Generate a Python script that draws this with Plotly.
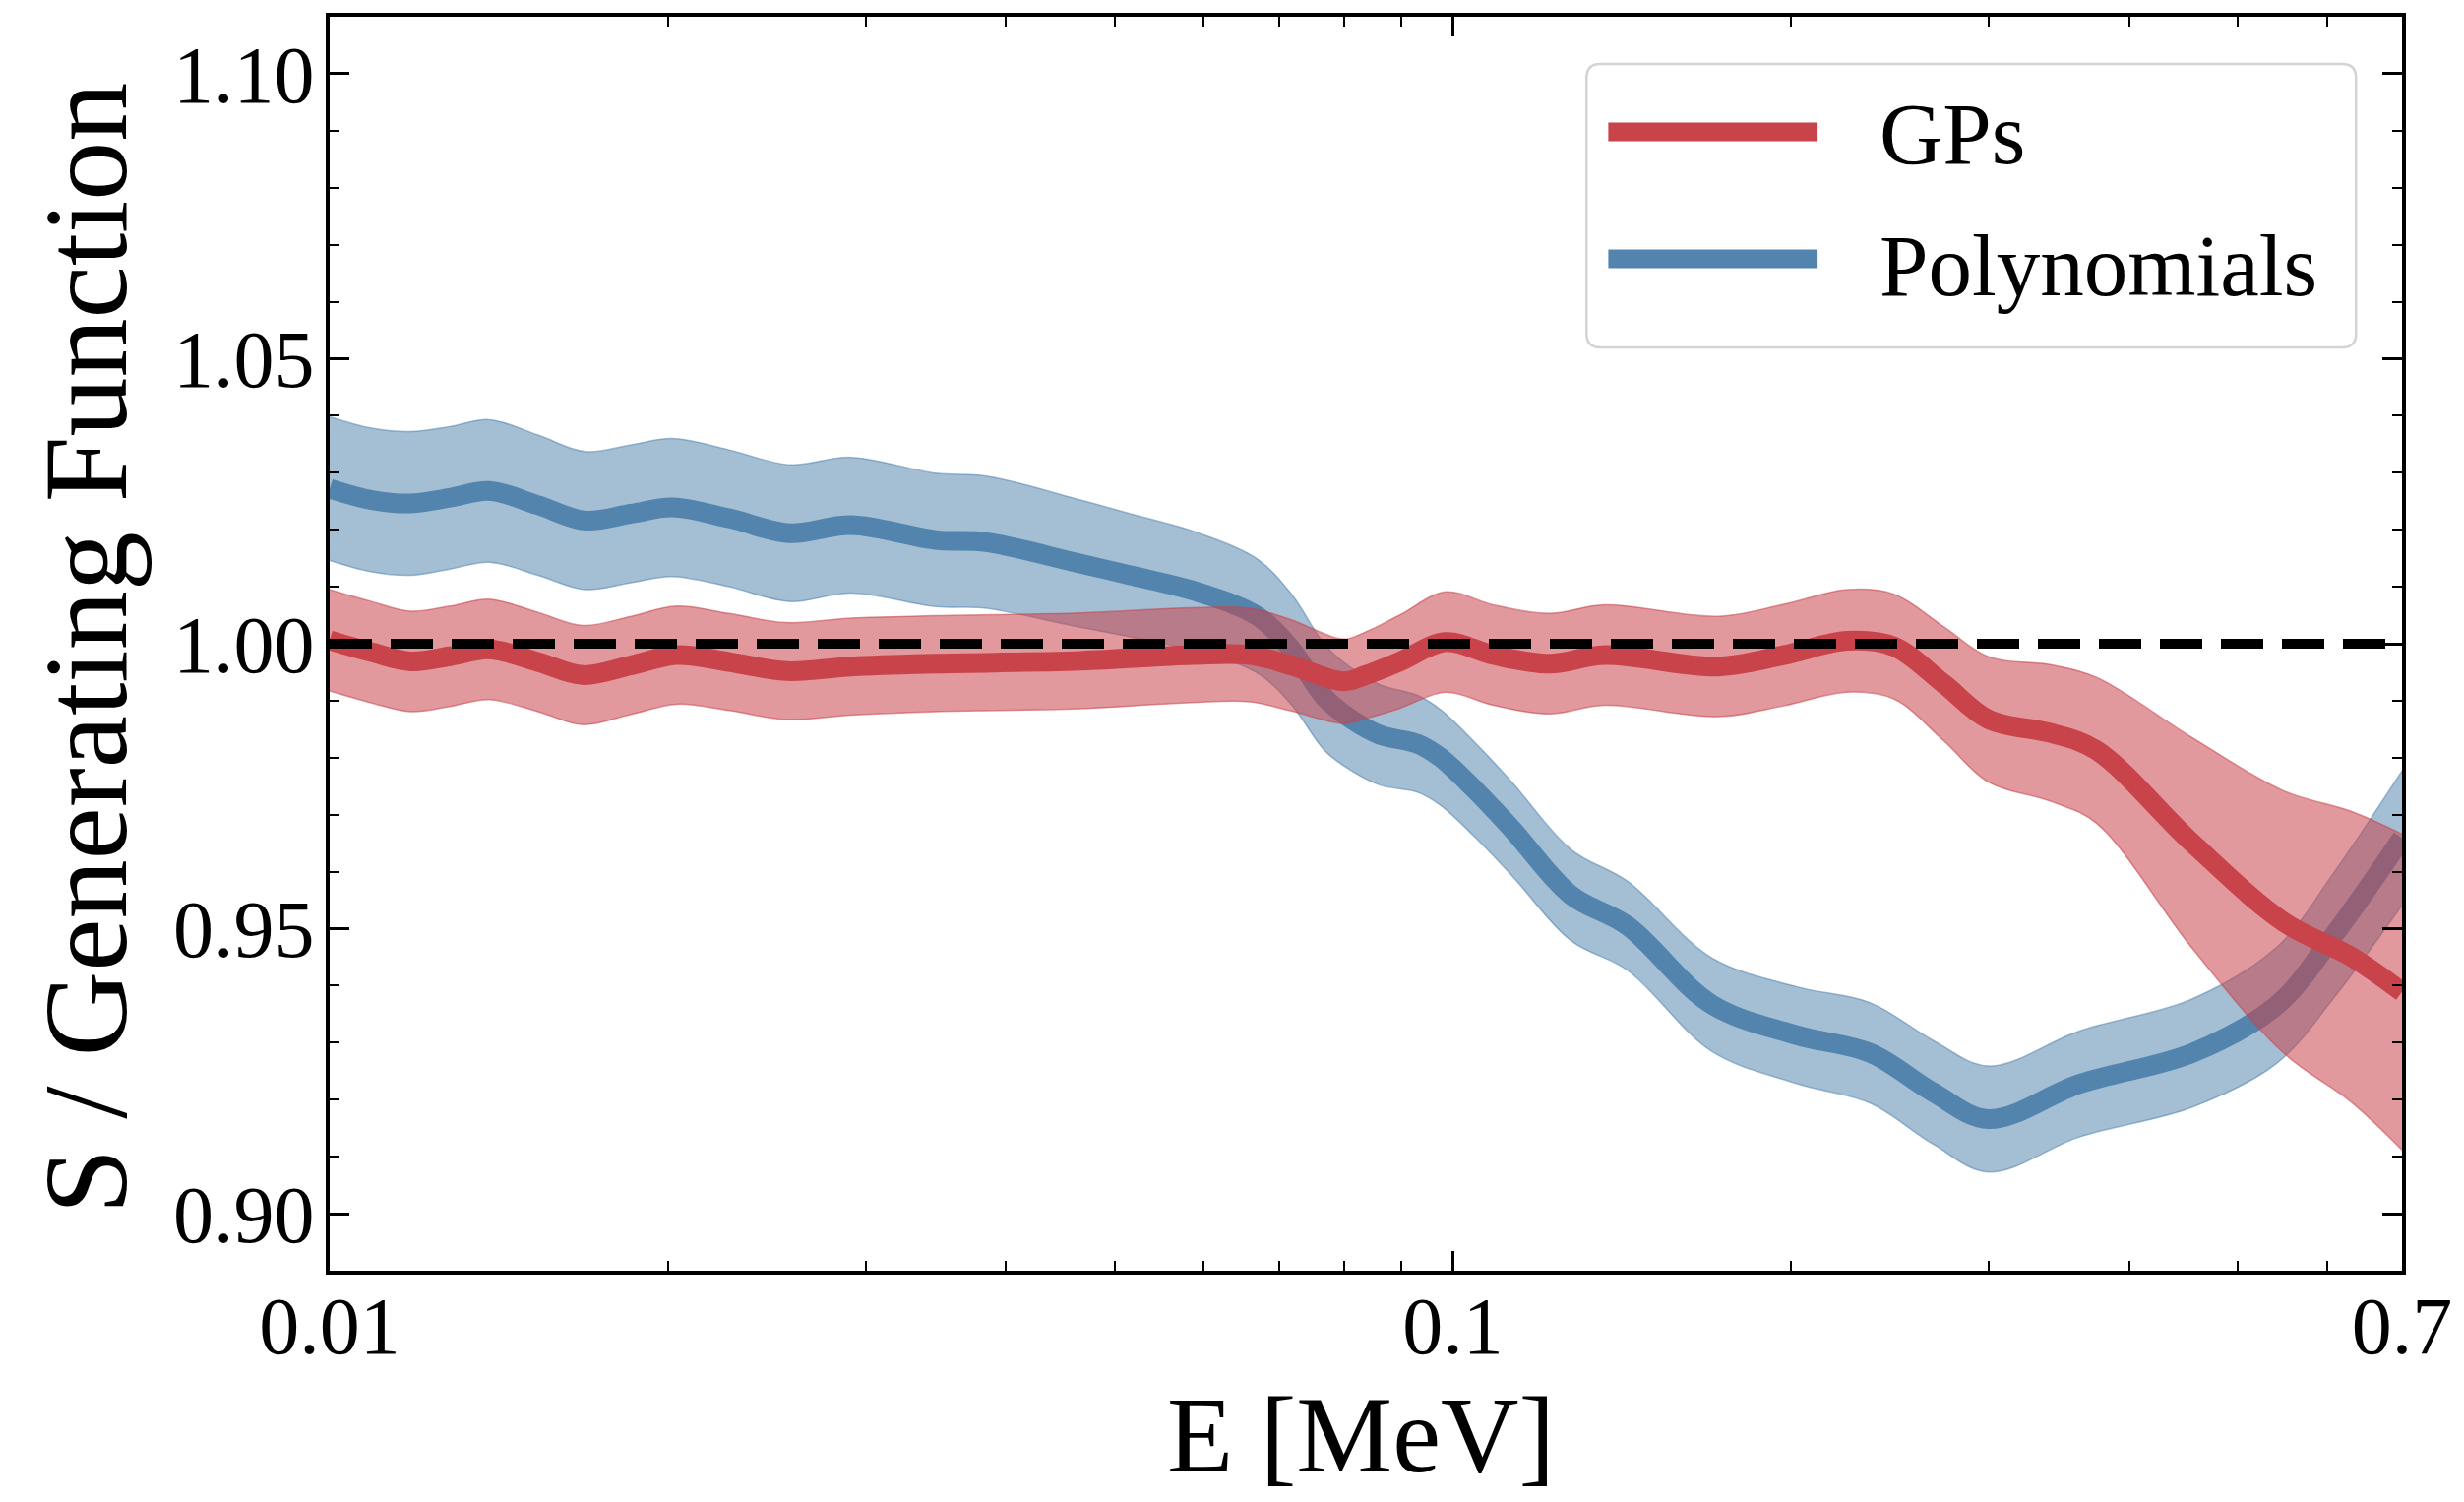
import math
import plotly.graph_objects as go

# ---- data -------------------------------------------------------------
# Energy grid [MeV] and S / generating-function ratio for the polynomial fit
poly_E = [0.0100, 0.0109, 0.01181, 0.0128, 0.01387, 0.01533, 0.01688, 0.01855,
          0.02018, 0.02268, 0.02568, 0.02914, 0.03463, 0.03844, 0.04624, 0.05162,
          0.05941, 0.06703, 0.07178, 0.07695, 0.08127, 0.08613, 0.09315, 0.09756,
          0.1046, 0.1129, 0.1274, 0.1431, 0.1700, 0.2025, 0.2353, 0.2677,
          0.3000, 0.3618, 0.4556, 0.5424, 0.6095, 0.7000]
poly_mid = [1.0272, 1.0252, 1.0246, 1.0256, 1.0268, 1.0243, 1.0216, 1.0228,
            1.0239, 1.0220, 1.0194, 1.0208, 1.0182, 1.0178, 1.0142, 1.0120,
            1.0090, 1.0048, 0.9991, 0.9905, 0.9867, 0.9840, 0.9824, 0.9800,
            0.9744, 0.9675, 0.9559, 0.9505, 0.9367, 0.9313, 0.9282, 0.9213,
            0.9166, 0.9228, 0.9282, 0.9367, 0.9490, 0.9659]
poly_half = [0.0126, 0.0126, 0.0126, 0.0125, 0.0125, 0.0123, 0.0121, 0.0121,
             0.0121, 0.0120, 0.0120, 0.0119, 0.0117, 0.0116, 0.0112, 0.0108,
             0.0104, 0.0100, 0.0097, 0.0093, 0.0090, 0.0088, 0.0085, 0.0084,
             0.0083, 0.0082, 0.0080, 0.0078, 0.0082, 0.0085, 0.0088, 0.0091,
             0.0093, 0.0093, 0.0095, 0.0102, 0.0110, 0.0118]

# Same ratio for the Gaussian-process fit
gp_E = [0.0100, 0.0109, 0.01181, 0.0128, 0.01387, 0.01533, 0.0168, 0.01855,
        0.02036, 0.02268, 0.02553, 0.02914, 0.03463, 0.0466, 0.0586, 0.0660,
        0.0718, 0.0799, 0.0837, 0.0898, 0.0985, 0.1087, 0.1219, 0.1365,
        0.1723, 0.1970, 0.2245, 0.2470, 0.2735, 0.3000, 0.3412, 0.3742,
        0.4556, 0.5490, 0.6306, 0.7000]
gp_mid = [1.0006, 0.9985, 0.9969, 0.9978, 0.9990, 0.9968, 0.9945, 0.9962,
          0.9980, 0.9968, 0.9952, 0.9960, 0.9965, 0.9970, 0.9980, 0.9980,
          0.9962, 0.9934, 0.9945, 0.9969, 1.0003, 0.9980, 0.9965, 0.9980,
          0.9960, 0.9980, 1.0005, 0.9995, 0.9930, 0.9867, 0.9843, 0.9813,
          0.9650, 0.9512, 0.9451, 0.9389]
gp_half = [0.0089, 0.0089, 0.0088, 0.0088, 0.0088, 0.0087, 0.0087, 0.0086,
           0.0086, 0.0085, 0.0085, 0.0085, 0.0084, 0.0084, 0.0083, 0.0082,
           0.0080, 0.0074, 0.0076, 0.0082, 0.0088, 0.0088, 0.0088, 0.0088,
           0.0088, 0.0089, 0.0090, 0.0092, 0.0100, 0.0110, 0.0120, 0.0128,
           0.0185, 0.0230, 0.0255, 0.0277]

reference_level = 1.0
x_ticks = [0.01, 0.1, 0.7]
x_tick_text = ["0.01", "0.1", "0.7"]
x_minor = [0.02, 0.03, 0.04, 0.05, 0.06, 0.07, 0.08, 0.09, 0.2, 0.3, 0.4, 0.5, 0.6]
series_names = ["GPs", "Polynomials"]

# ---- styling ----------------------------------------------------------
FONT = "Liberation Serif"
RED = "#c8434a"
RED_FILL = "rgba(200,67,74,0.54)"
BLUE = "#5384ad"
BLUE_FILL = "rgba(83,132,173,0.53)"

fig = go.Figure()


def add_band(E, mid, half, line_color, fill_color, name):
    lower = [m - h for m, h in zip(mid, half)]
    upper = [m + h for m, h in zip(mid, half)]
    fig.add_trace(go.Scatter(x=E, y=lower, mode="lines", line=dict(width=1.5, color=fill_color, shape="spline"),
                             showlegend=False, hoverinfo="skip"))
    fig.add_trace(go.Scatter(x=E, y=upper, mode="lines", fill="tonexty", fillcolor=fill_color,
                             line=dict(width=1.5, color=fill_color, shape="spline"),
                             showlegend=False, hoverinfo="skip"))
    fig.add_trace(go.Scatter(x=E, y=mid, mode="lines", name=name,
                             line=dict(width=20, color=line_color, shape="spline"),
                             showlegend=False))


# polynomial fit underneath, GP fit on top
add_band(poly_E, poly_mid, poly_half, BLUE, BLUE_FILL, series_names[1])
add_band(gp_E, gp_mid, gp_half, RED, RED_FILL, series_names[0])

# unit ratio reference
fig.add_trace(go.Scatter(x=[x_ticks[0], x_ticks[-1]], y=[reference_level, reference_level], mode="lines",
                         line=dict(color="black", width=10, dash="43px,19px"),
                         showlegend=False, hoverinfo="skip"))

axis_common = dict(
    showline=True, linecolor="black", linewidth=4, mirror="allticks",
    ticks="inside", ticklen=20, tickwidth=2.5, tickcolor="black",
    showgrid=False, zeroline=False,
    tickfont=dict(family=FONT, size=82, color="black"),
)

fig.update_xaxes(type="log", range=[-2, math.log10(0.7)],
                 tickvals=x_ticks, ticktext=x_tick_text,
                 minor=dict(tickvals=x_minor, ticks="inside", ticklen=10, tickwidth=2, tickcolor="black"),
                 ticklabelstandoff=-18,
                 **axis_common)
fig.update_yaxes(range=[0.89, 1.11], tick0=0.9, dtick=0.05, tickformat=".2f",
                 minor=dict(dtick=0.01, ticks="inside", ticklen=10, tickwidth=2, tickcolor="black"),
                 ticklabelstandoff=-5,
                 **axis_common)

# ---- legend drawn in paper coordinates --------------------------------
PW, PH = 2114.0, 1274.0
bx0, bx1, by0, by1 = 0.6065, 0.9778, 0.7363, 0.9623
rx, ry = 14 / PW, 14 / PH
box_path = (f"M{bx0 + rx},{by1} L{bx1 - rx},{by1} Q{bx1},{by1} {bx1},{by1 - ry} "
            f"L{bx1},{by0 + ry} Q{bx1},{by0} {bx1 - rx},{by0} "
            f"L{bx0 + rx},{by0} Q{bx0},{by0} {bx0},{by0 + ry} "
            f"L{bx0},{by1 - ry} Q{bx0},{by1} {bx0 + rx},{by1} Z")
fig.add_shape(type="path", path=box_path, xref="paper", yref="paper",
              line=dict(color="#d3d3d3", width=2.5), fillcolor="rgba(255,255,255,0.8)", layer="above")

legend_rows = [(series_names[0], RED, 0.9082, 0.9066), (series_names[1], BLUE, 0.8069, 0.8014)]
for label, color, yl, yt in legend_rows:
    fig.add_shape(type="line", xref="paper", yref="paper", x0=0.6170, x1=0.7180, y0=yl, y1=yl,
                  line=dict(color=color, width=19), layer="above")
    fig.add_annotation(text=label, xref="paper", yref="paper", x=0.7470, y=yt,
                       xanchor="left", yanchor="middle", showarrow=False,
                       font=dict(family=FONT, size=89, color="black"))

# ---- axis titles ------------------------------------------------------
fig.add_annotation(text="E [MeV]", xref="paper", yref="paper", x=0.4974, y=-0.1311,
                   xanchor="center", yanchor="middle", showarrow=False,
                   font=dict(family=FONT, size=110, color="black"))
fig.add_annotation(text="S / Generating Function", xref="paper", yref="paper", x=-0.1175, y=0.4961,
                   xanchor="center", yanchor="middle", textangle=-90, showarrow=False,
                   font=dict(family=FONT, size=120, color="black"))

fig.update_layout(
    width=2504, height=1526,
    margin=dict(l=335, r=55, t=17, b=235),
    paper_bgcolor="white", plot_bgcolor="white",
    showlegend=False,
)

fig.write_html("out.html")
